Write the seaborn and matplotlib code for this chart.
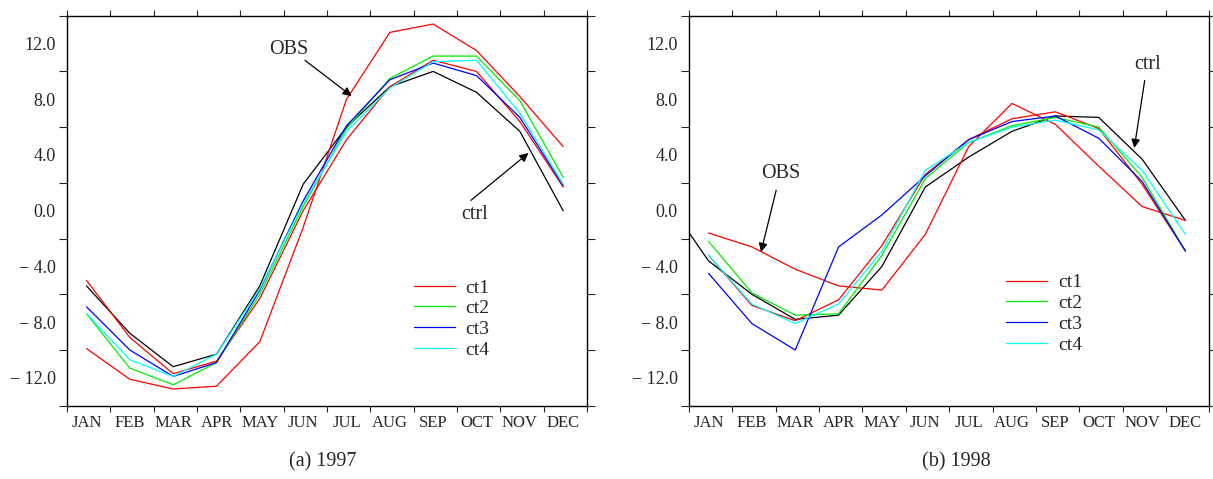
import matplotlib
matplotlib.use('Agg')
import matplotlib.pyplot as plt
import seaborn as sns
import numpy as np
from matplotlib.ticker import FixedLocator, FixedFormatter

# ---------------- data ----------------
months = ['JAN', 'FEB', 'MAR', 'APR', 'MAY', 'JUN', 'JUL', 'AUG', 'SEP', 'OCT', 'NOV', 'DEC']

obs_1997 = [-9.9, -12.1, -12.8, -12.6, -9.4, -1.2, 8.0, 12.8, 13.4, 11.5, 8.2, 4.6]
ct1_1997 = [-5.0, -9.1, -11.7, -10.8, -6.3, 0.0, 5.1, 8.9, 10.8, 10.0, 6.4, 1.7]
ct2_1997 = [-7.4, -11.3, -12.5, -10.9, -6.0, 0.3, 5.9, 9.5, 11.1, 11.1, 7.9, 2.4]
ct3_1997 = [-6.9, -10.0, -11.9, -10.9, -5.7, 0.7, 6.1, 9.4, 10.6, 9.7, 6.7, 1.8]
ct4_1997 = [-7.4, -10.7, -11.9, -10.3, -5.6, 0.5, 5.7, 8.8, 10.7, 10.8, 7.0, 1.9]
ctrl_1997 = [-5.4, -8.8, -11.2, -10.3, -5.4, 1.9, 6.0, 8.9, 10.0, 8.5, 5.7, 0.0]

obs_1998 = [-1.6, -2.6, -4.2, -5.4, -5.7, -1.7, 4.6, 7.7, 6.2, 3.2, 0.3, -0.7]
ct1_1998 = [-3.2, -6.8, -7.9, -6.4, -2.5, 2.6, 5.1, 6.6, 7.1, 5.9, 1.9, -2.9]
ct2_1998 = [-2.2, -5.9, -7.5, -7.4, -3.2, 2.3, 4.9, 6.1, 6.7, 6.0, 2.4, -2.9]
ct3_1998 = [-4.5, -8.1, -10.0, -2.6, -0.3, 2.5, 5.1, 6.4, 6.8, 5.2, 2.1, -2.9]
ct4_1998 = [-3.2, -6.7, -8.1, -6.7, -2.9, 2.9, 4.9, 6.0, 6.5, 5.8, 2.9, -1.7]
ctrl_1998 = [-3.6, -6.0, -7.8, -7.5, -4.0, 1.7, 3.85, 5.7, 6.8, 6.7, 3.7, -0.7]
ctrl_1998_prev_dec = 0.9   # preceding December value, drawn partly (clipped)

legend_labels = ['ct1', 'ct2', 'ct3', 'ct4']
yticks_major = [-12, -8, -4, 0, 4, 8, 12]
captions = ['(a) 1997', '(b) 1998']

# ---------------- style ----------------
sns.set_theme(style='white')
plt.rcParams['font.family'] = ['Liberation Serif', 'DejaVu Serif']
plt.rcParams['axes.unicode_minus'] = True

colors = {'obs': '#ff0000', 'ct1': '#ff0000', 'ct2': '#00ee00',
          'ct3': '#0000ff', 'ct4': '#00ffff', 'ctrl': '#000000'}

fig = plt.figure(figsize=(12.13, 4.79), dpi=100)
axL = fig.add_axes([67 / 1213, 1 - 405.7 / 479, 520 / 1213, 390 / 479])
axR = fig.add_axes([689 / 1213, 1 - 405.7 / 479, 520.3 / 1213, 390 / 479])

x = np.arange(12)
lw = 0.9


def draw(ax, obs, ct1, ct2, ct3, ct4, ctrl, ctrl_x):
    sns.lineplot(x=ctrl_x, y=ctrl, ax=ax, color=colors['ctrl'], lw=lw, legend=False)
    sns.lineplot(x=x, y=obs, ax=ax, color=colors['obs'], lw=lw, legend=False)
    handles = []
    for vals, key in zip([ct1, ct2, ct3, ct4], legend_labels):
        sns.lineplot(x=x, y=vals, ax=ax, color=colors[key], lw=lw, legend=False)
        handles.append(ax.lines[-1])
    return handles


hL = draw(axL, obs_1997, ct1_1997, ct2_1997, ct3_1997, ct4_1997, ctrl_1997, x)
hR = draw(axR, obs_1998, ct1_1998, ct2_1998, ct3_1998, ct4_1998,
          [ctrl_1998_prev_dec] + ctrl_1998, np.arange(-1, 12))

ylab = [('\u2212 %.1f' % abs(v)) if v < 0 else '%.1f' % v for v in yticks_major]
bounds = list(-0.45 + np.arange(13))

for ax in (axL, axR):
    ax.set_xlim(-0.45, 11.55)
    ax.set_ylim(-14, 14)
    ax.set_xlabel('')
    ax.set_ylabel('')
    ax.xaxis.set_major_locator(FixedLocator(list(x)))
    ax.xaxis.set_major_formatter(FixedFormatter(months))
    ax.xaxis.set_minor_locator(FixedLocator(bounds))
    ax.yaxis.set_major_locator(FixedLocator(yticks_major))
    ax.yaxis.set_major_formatter(FixedFormatter(ylab))
    ax.yaxis.set_minor_locator(FixedLocator(list(range(-14, 15, 2))))
    ax.tick_params(axis='x', which='major', length=0, pad=7, labelsize=12,
                   bottom=True, top=False)
    ax.tick_params(axis='x', which='minor', length=4.5, width=0.8, direction='out',
                   bottom=True, top=True)
    ax.tick_params(axis='y', which='major', length=0, pad=8, labelsize=13,
                   left=True, right=False)
    ax.tick_params(axis='y', which='minor', length=5.5, width=0.8, direction='out',
                   left=True, right=True)
    for s in ax.spines.values():
        s.set_visible(True)
        s.set_color('black')
        s.set_linewidth(1.0)
    ax.grid(False)
    ax.set_facecolor('white')

# legends
for ax, h, anchor in ((axL, hL, (0.667, 0.325)), (axR, hR, (0.61, 0.338))):
    ax.legend(h, legend_labels, loc='upper left', bbox_to_anchor=anchor,
              frameon=False, fontsize=14, handlelength=2.1, handletextpad=0.55,
              labelspacing=0.16, borderpad=0, borderaxespad=0)

# annotations
arrow = dict(arrowstyle='-|>', color='black', lw=0.9, mutation_scale=13,
             shrinkA=0, shrinkB=0)
fs_ann = 14.5
axL.text(4.67, 11.55, 'OBS', ha='center', va='center', fontsize=fs_ann)
axL.annotate('', xy=(6.12, 8.23), xytext=(5.04, 10.8), arrowprops=arrow)
axL.text(8.95, -0.27, 'ctrl', ha='center', va='center', fontsize=fs_ann)
axL.annotate('', xy=(10.2, 4.14), xytext=(8.87, 0.74), arrowprops=arrow)

axR.text(1.66, 2.68, 'OBS', ha='center', va='center', fontsize=fs_ann)
axR.annotate('', xy=(1.21, -2.97), xytext=(1.56, 1.46), arrowprops=arrow)
axR.text(10.13, 10.51, 'ctrl', ha='center', va='center', fontsize=fs_ann)
axR.annotate('', xy=(9.82, 4.5), xytext=(10.06, 9.35), arrowprops=arrow)

fig.text(323 / 1213, 1 - 462 / 479, captions[0], ha='center', va='center', fontsize=14.5)
fig.text(956 / 1213, 1 - 462 / 479, captions[1], ha='center', va='center', fontsize=14.5)

fig.savefig('out.png', dpi=100, facecolor='white')
